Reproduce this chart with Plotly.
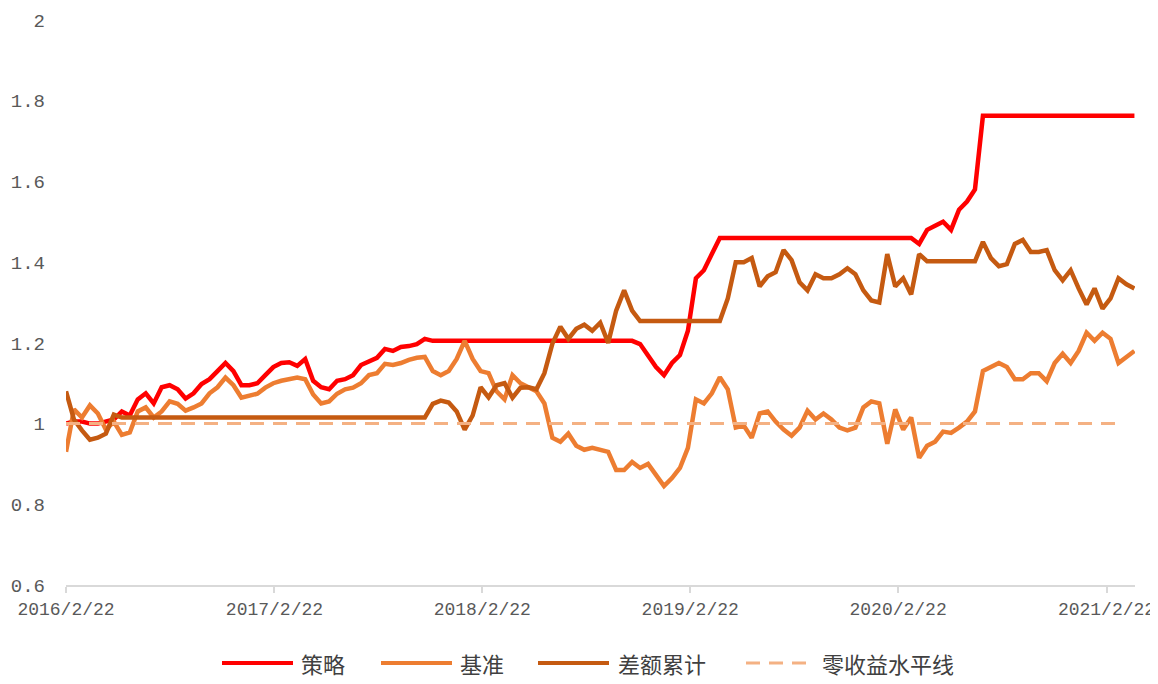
import plotly.graph_objects as go
import pandas as pd

# two-week sample dates, 2016/2/22 .. 2021/4/12
dates = pd.date_range("2016-02-22", periods=135, freq="14D")

strategy = [
    1.00, 1.005, 1.005, 1.00, 1.00, 1.005, 1.01, 1.03, 1.02, 1.06,
    1.075, 1.05, 1.09, 1.095, 1.085, 1.062, 1.075, 1.098, 1.11, 1.13,
    1.15, 1.13, 1.095, 1.095, 1.10, 1.12, 1.14, 1.15, 1.152, 1.143,
    1.16, 1.106, 1.09, 1.085, 1.106, 1.11, 1.12, 1.145, 1.155, 1.163,
    1.185, 1.18, 1.19, 1.192, 1.197, 1.21, 1.205, 1.205, 1.205, 1.205,
    1.205, 1.205, 1.205, 1.205, 1.205, 1.205, 1.205, 1.205, 1.205, 1.205,
    1.205, 1.205, 1.205, 1.205, 1.205, 1.205, 1.205, 1.205, 1.205, 1.205,
    1.205, 1.205, 1.197, 1.17, 1.14, 1.12, 1.15, 1.17, 1.23, 1.36,
    1.38, 1.42, 1.46, 1.46, 1.46, 1.46, 1.46, 1.46, 1.46, 1.46,
    1.46, 1.46, 1.46, 1.46, 1.46, 1.46, 1.46, 1.46, 1.46, 1.46,
    1.46, 1.46, 1.46, 1.46, 1.46, 1.46, 1.46, 1.445, 1.48, 1.49,
    1.50, 1.48, 1.53, 1.55, 1.58, 1.763, 1.763, 1.763, 1.763, 1.763,
    1.763, 1.763, 1.763, 1.763, 1.763, 1.763, 1.763, 1.763, 1.763, 1.763,
    1.763, 1.763, 1.763, 1.763, 1.763,
]

benchmark = [
    0.93, 1.035, 1.015, 1.045, 1.025, 0.985, 1.005, 0.972, 0.978, 1.03,
    1.04, 1.015, 1.03, 1.055, 1.049, 1.032, 1.04, 1.05, 1.075, 1.09,
    1.114, 1.095, 1.064, 1.069, 1.074, 1.089, 1.10, 1.106, 1.11, 1.114,
    1.11, 1.072, 1.05, 1.055, 1.074, 1.085, 1.089, 1.10, 1.12, 1.125,
    1.148, 1.145, 1.15, 1.158, 1.163, 1.165, 1.13, 1.12, 1.13, 1.16,
    1.205, 1.16, 1.13, 1.125, 1.08, 1.06, 1.12, 1.10, 1.09, 1.08,
    1.05, 0.965, 0.955, 0.975, 0.945, 0.935, 0.94, 0.935, 0.93, 0.885,
    0.885, 0.905, 0.89, 0.90, 0.87, 0.845, 0.865, 0.89, 0.94, 1.06,
    1.05, 1.075, 1.115, 1.085, 0.99, 0.995, 0.965, 1.025, 1.03, 1.005,
    0.985, 0.97, 0.99, 1.032, 1.01, 1.025, 1.01, 0.99, 0.983, 0.99,
    1.04, 1.055, 1.05, 0.95, 1.035, 0.985, 1.015, 0.915, 0.945, 0.955,
    0.98, 0.977, 0.99, 1.005, 1.03, 1.13, 1.14, 1.15, 1.14, 1.11,
    1.11, 1.125, 1.125, 1.105, 1.15, 1.173, 1.15, 1.18, 1.225, 1.205,
    1.225, 1.21, 1.15, 1.165, 1.18,
]

excess = [
    1.08, 1.01, 0.983, 0.96, 0.965, 0.975, 1.022, 1.015, 1.015, 1.015,
    1.015, 1.015, 1.015, 1.015, 1.015, 1.015, 1.015, 1.015, 1.015, 1.015,
    1.015, 1.015, 1.015, 1.015, 1.015, 1.015, 1.015, 1.015, 1.015, 1.015,
    1.015, 1.015, 1.015, 1.015, 1.015, 1.015, 1.015, 1.015, 1.015, 1.015,
    1.015, 1.015, 1.015, 1.015, 1.015, 1.015, 1.049, 1.057, 1.052, 1.03,
    0.985, 1.02, 1.09, 1.065, 1.095, 1.10, 1.064, 1.089, 1.09, 1.085,
    1.125, 1.198, 1.24, 1.21, 1.235, 1.245, 1.23, 1.25, 1.20, 1.28,
    1.33, 1.28, 1.254, 1.254, 1.254, 1.254, 1.254, 1.254, 1.254, 1.254,
    1.254, 1.254, 1.254, 1.31, 1.40, 1.40, 1.41, 1.34, 1.365, 1.375,
    1.43, 1.405, 1.35, 1.33, 1.37, 1.36, 1.36, 1.37, 1.385, 1.37,
    1.33, 1.305, 1.30, 1.42, 1.34, 1.36, 1.32, 1.42, 1.402, 1.402,
    1.402, 1.402, 1.402, 1.402, 1.402, 1.45, 1.41, 1.39, 1.395, 1.445,
    1.455, 1.425, 1.425, 1.43, 1.38, 1.355, 1.38, 1.335, 1.295, 1.335,
    1.285, 1.31, 1.36, 1.345, 1.335,
]

zero_dates = ["2016-02-22", "2021-03-13"]
zero_values = [1, 1]

x_tick_dates = ["2016-02-22", "2017-02-22", "2018-02-22", "2019-02-22", "2020-02-22", "2021-02-22"]
x_tick_labels = ["2016/2/22", "2017/2/22", "2018/2/22", "2019/2/22", "2020/2/22", "2021/2/22"]
y_tick_vals = [0.6, 0.8, 1.0, 1.2, 1.4, 1.6, 1.8, 2.0]
y_tick_labels = ["0.6", "0.8", "1", "1.2", "1.4", "1.6", "1.8", "2"]

RED = "#FF0000"
ORANGE = "#ED7D31"
BROWN = "#C55A11"
PEACH = "#F4B183"

fig = go.Figure()
fig.add_trace(go.Scatter(x=dates, y=strategy, name="策略", mode="lines",
                         line=dict(color=RED, width=4.5)))
fig.add_trace(go.Scatter(x=dates, y=benchmark, name="基准", mode="lines",
                         line=dict(color=ORANGE, width=4.5)))
fig.add_trace(go.Scatter(x=dates, y=excess, name="差额累计", mode="lines",
                         line=dict(color=BROWN, width=4.5)))
fig.add_trace(go.Scatter(x=zero_dates, y=zero_values, name="零收益水平线", mode="lines",
                         line=dict(color=PEACH, width=3, dash="14px,9px")))

# the page puts the figure 8px in from the top-left corner
OFF = 8
W, H = 1158 - OFF, 684 - OFF
L, R, T, B = 66 - OFF, 23, 20 - OFF, 99
pw, ph = W - L - R, H - T - B


def px(x):
    return (x - OFF - L) / pw


def py(y):
    return (H - B - (y - OFF)) / ph


# hand-made legend below the plot (Excel style long line samples)
legend_items = [
    ("策略", RED, None, 222, 293, 299),
    ("基准", ORANGE, None, 381, 452, 458),
    ("差额累计", BROWN, None, 538, 609, 616),
    ("零收益水平线", PEACH, "14px,9px", 746, 806, 820),
]
legend_y = 663
shapes = []
annotations = []
for name, color, dash, x0, x1, tx in legend_items:
    line = dict(color=color, width=4 if dash is None else 3)
    if dash:
        line["dash"] = dash
    shapes.append(dict(type="line", xref="paper", yref="paper",
                       x0=px(x0), x1=px(x1), y0=py(legend_y), y1=py(legend_y), line=line))
    annotations.append(dict(text=name, xref="paper", yref="paper", x=px(tx), y=py(legend_y),
                            xanchor="left", yanchor="middle", showarrow=False,
                            font=dict(family="Noto Sans CJK SC", size=22, color="#404040")))

fig.update_layout(
    width=W, height=H,
    margin=dict(l=L, r=R, t=T, b=B),
    plot_bgcolor="white", paper_bgcolor="white",
    showlegend=False,
    shapes=shapes,
    annotations=annotations,
    font=dict(family="Liberation Mono", size=19, color="#595959"),
)
fig.update_xaxes(
    type="date", range=["2016-02-22", "2021-04-13"],
    tickvals=x_tick_dates, ticktext=x_tick_labels,
    tickfont=dict(size=18),
    showgrid=False, zeroline=False, automargin=False,
    showline=True, linecolor="#D9D9D9", linewidth=2,
    ticks="outside", ticklen=6, tickcolor="#D9D9D9", tickwidth=2,
    ticklabelstandoff=0,
)
fig.update_yaxes(
    range=[0.6, 2.0], tickvals=y_tick_vals, ticktext=y_tick_labels,
    showgrid=False, zeroline=False, showline=False, automargin=False,
    ticks="", ticklabelstandoff=20,
)

fig.write_html("out.html")
